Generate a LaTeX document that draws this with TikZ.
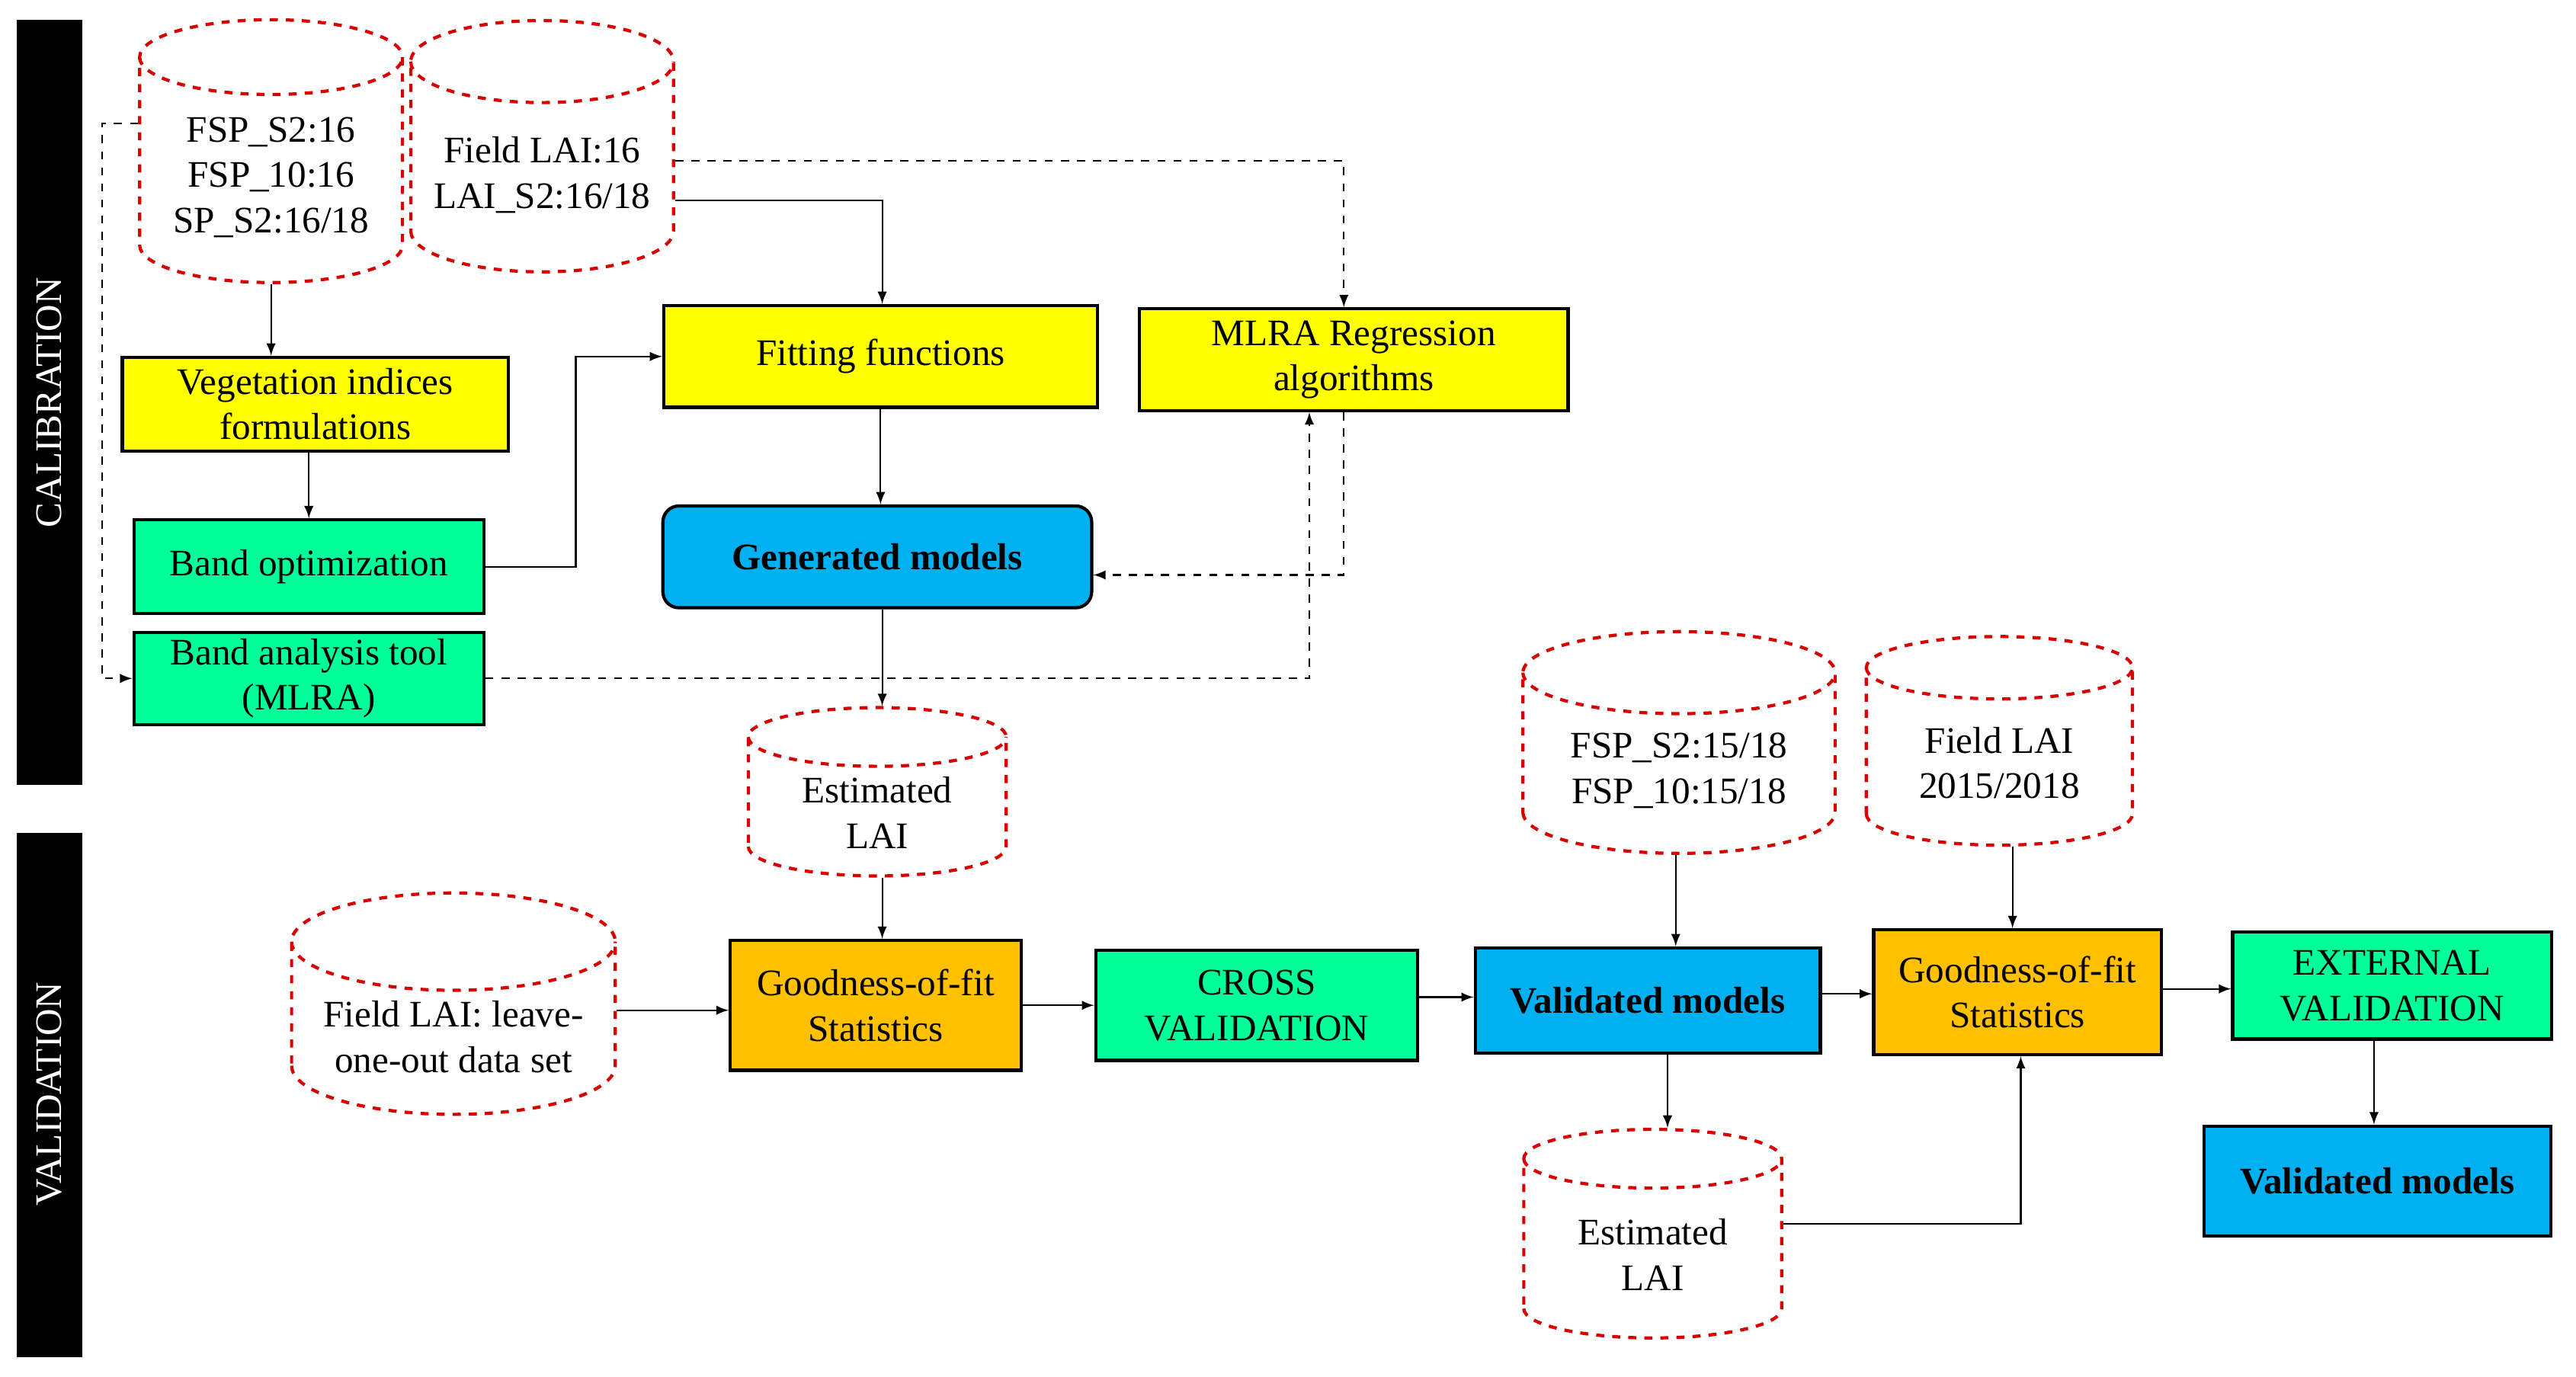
\documentclass[tikz,border=0pt]{standalone}
\usepackage{fontspec}
\setmainfont{Liberation Serif}
\usetikzlibrary{shapes.geometric}
\definecolor{boxyellow}{HTML}{FFFF00}
\definecolor{boxgreen}{HTML}{00FF99}
\definecolor{boxblue}{HTML}{00B0F0}
\definecolor{boxorange}{HTML}{FFC000}
\tikzset{
    box/.style={draw=black,very thick,align=center,inner sep=2pt},
    yel/.style={box,fill=boxyellow},
    grn/.style={box,fill=boxgreen},
    blu/.style={box,fill=boxblue,font=\fontsize{14}{17}\selectfont\bfseries},
    org/.style={box,fill=boxorange},
    db/.style={cylinder,shape border rotate=90,draw=red!85!black,dashed,very thick,
        fill=white,aspect=0.35,align=center,anchor=shape center},
    bar/.style={fill=black,text=white,rotate=90,font=\fontsize{14}{16}\selectfont},
}
\begin{document}
\begin{tikzpicture}[x=0.021556cm,y=-0.021556cm,>=latex,semithick,font=\fontsize{14}{17}\selectfont]
    \useasboundingbox (0,0) rectangle (1568,838);
    % side bars
    \fill (10,12) rectangle (50,478);
    \fill (10,507) rectangle (50,826);
    \node [bar] at (30,245) {CALIBRATION};
    \node [bar] at (30,666) {VALIDATION};
    % calibration
    \node [db,minimum width=160*0.021556cm,minimum height=160*0.021556cm] (SpecA) at (165,92) {FSP\_S2:16\\FSP\_10:16\\SP\_S2:16/18};
    \node [db,minimum width=160*0.021556cm,minimum height=153*0.021556cm] (FieldA) at (330,89) {Field LAI:16\\LAI\_S2:16/18};
    \node [yel,minimum width=235*0.021556cm,minimum height=57*0.021556cm] (Veg) at (192,246) {Vegetation indices\\formulations};
    \node [grn,minimum width=213*0.021556cm,minimum height=57*0.021556cm] (BandOpt) at (188,345) {Band optimization};
    \node [grn,minimum width=213*0.021556cm,minimum height=56*0.021556cm] (BandTool) at (188,413) {Band analysis tool\\(MLRA)};
    \node [yel,minimum width=264*0.021556cm,minimum height=62*0.021556cm] (Fit) at (536,217) {Fitting functions};
    \node [yel,minimum width=261*0.021556cm,minimum height=62*0.021556cm] (Mlra) at (824,219) {MLRA Regression\\algorithms};
    \node [blu,rounded corners=6pt,minimum width=261*0.021556cm,minimum height=62*0.021556cm] (GenMod) at (534,339) {Generated models};
    \node [db,minimum width=157*0.021556cm,minimum height=100*0.021556cm] (EstA) at (534,482) {Estimated\\LAI};
    % validation
    \node [db,minimum width=197*0.021556cm,minimum height=133*0.021556cm] (FieldLoo) at (276,611) {Field LAI: leave-\\one-out data set};
    \node [org,minimum width=177*0.021556cm,minimum height=79*0.021556cm] (GofA) at (533,612) {Goodness-of-fit\\Statistics};
    \node [grn,minimum width=196*0.021556cm,minimum height=67*0.021556cm] (Cross) at (765,612) {CROSS\\VALIDATION};
    \node [blu,minimum width=210*0.021556cm,minimum height=64*0.021556cm] (ValA) at (1003,609) {Validated models};
    \node [db,minimum width=190*0.021556cm,minimum height=135*0.021556cm] (SpecB) at (1022,452) {FSP\_S2:15/18\\FSP\_10:15/18};
    \node [db,minimum width=162*0.021556cm,minimum height=127*0.021556cm] (FieldB) at (1217,451) {Field LAI\\2015/2018};
    \node [org,minimum width=175*0.021556cm,minimum height=76*0.021556cm] (GofB) at (1228,604) {Goodness-of-fit\\Statistics};
    \node [db,minimum width=157*0.021556cm,minimum height=127*0.021556cm] (EstB) at (1006,751) {Estimated\\LAI};
    \node [grn,minimum width=194*0.021556cm,minimum height=65*0.021556cm] (Ext) at (1456,600) {EXTERNAL\\VALIDATION};
    \node [blu,minimum width=211*0.021556cm,minimum height=67*0.021556cm] (ValB) at (1447,719) {Validated models};
    % connectors
    \draw [->] (SpecA.south) -- (Veg.north -| SpecA.south);
    \draw [->] (Veg.south -| BandOpt.north) -- (BandOpt.north);
    \draw [->] (BandOpt.east) -- ++(55,0) |- (Fit.west);
    \draw [->] (FieldA.east |- 0,122) -- (537,122) -- (Fit.north -| 537,0);
    \draw [->,dashed] (FieldA.east |- 0,98) -- (818,98) -- (Mlra.north -| 818,0);
    \draw [->] (Fit.south) -- (GenMod.north -| Fit.south);
    \draw [->,dashed] (Mlra.south -| 818,0) -- (818,350) -- (GenMod.east |- 0,350);
    \draw [->,dashed] (SpecA.west |- 0,75) -- (62,75) |- (BandTool.west);
    \draw [->,dashed] (BandTool.east) -- (797,413) -- (Mlra.south -| 797,0);
    \draw [->] (GenMod.south -| 537,0) -- (EstA.north -| 537,0);
    \draw [->] (EstA.south -| 537,0) -- (GofA.north -| 537,0);
    \draw [->] (FieldLoo.east |- 0,615) -- (GofA.west |- 0,615);
    \draw [->] (GofA.east) -- (Cross.west |- GofA.east);
    \draw [->] (Cross.east |- 0,607) -- (ValA.west |- 0,607);
    \draw [->] (SpecB.south -| 1020,0) -- (ValA.north -| 1020,0);
    \draw [->] (ValA.south -| 1015,0) -- (EstB.north -| 1015,0);
    \draw [->] (ValA.east |- 0,605) -- (GofB.west |- 0,605);
    \draw [->] (FieldB.south -| 1225,0) -- (GofB.north -| 1225,0);
    \draw [->] (EstB.east |- 0,745) -- (1230,745) -- (GofB.south -| 1230,0);
    \draw [->] (GofB.east |- 0,602) -- (Ext.west |- 0,602);
    \draw [->] (Ext.south -| 1445,0) -- (ValB.north -| 1445,0);
\end{tikzpicture}
\end{document}
